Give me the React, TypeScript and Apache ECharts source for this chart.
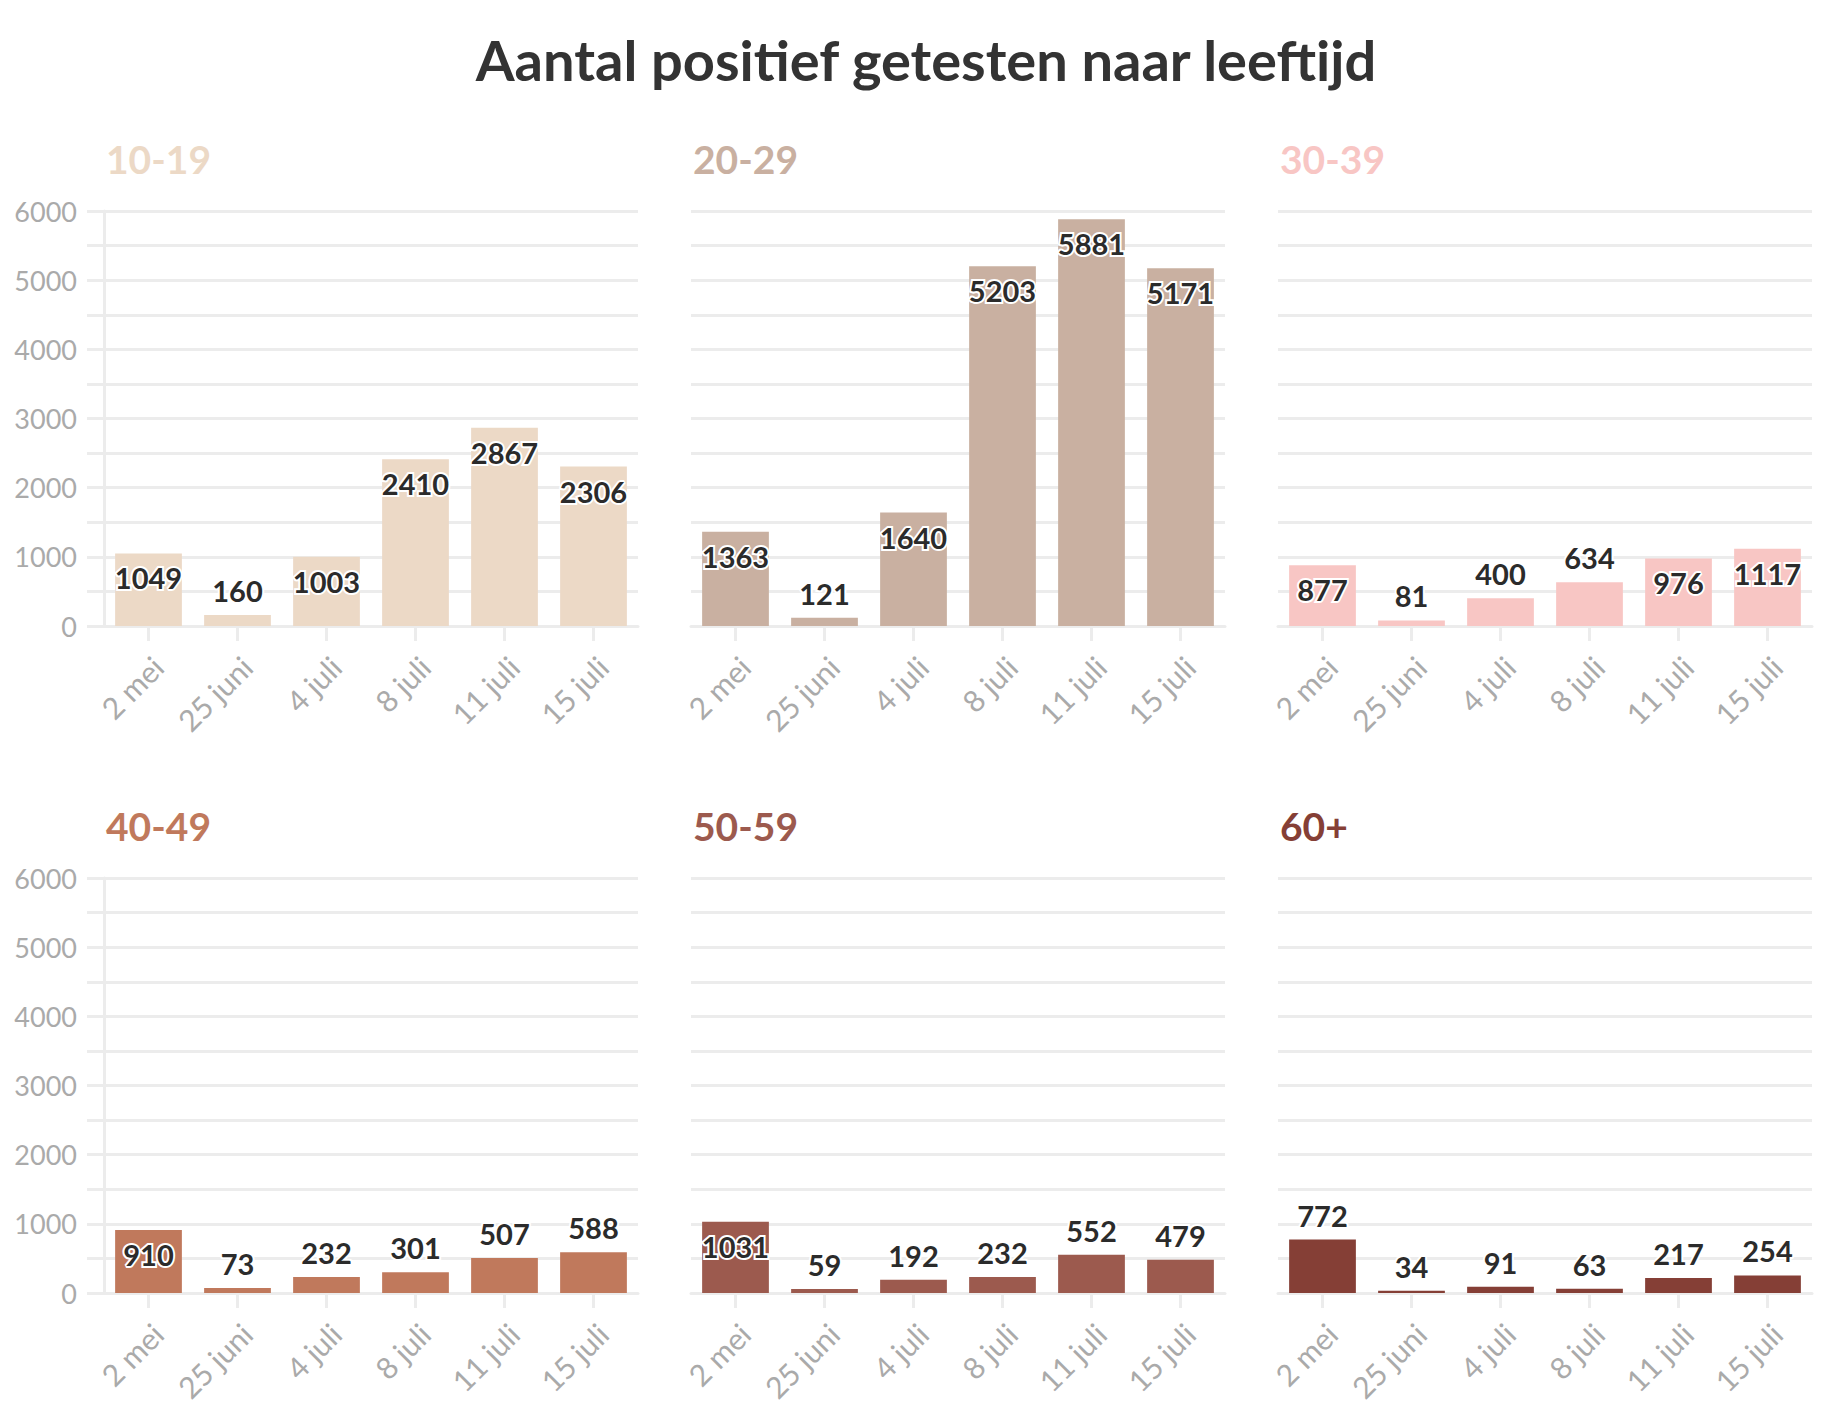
import React, { useEffect, useRef } from "react";
import * as echarts from "echarts";

const categories = ["2 mei", "25 juni", "4 juli", "8 juli", "11 juli", "15 juli"];
const groups = ["10-19", "20-29", "30-39", "40-49", "50-59", "60+"];
const v10_19 = [1049, 160, 1003, 2410, 2867, 2306];
const v20_29 = [1363, 121, 1640, 5203, 5881, 5171];
const v30_39 = [877, 81, 400, 634, 976, 1117];
const v40_49 = [910, 73, 232, 301, 507, 588];
const v50_59 = [1031, 59, 192, 232, 552, 479];
const v60 = [772, 34, 91, 63, 217, 254];
const seriesValues = [v10_19, v20_29, v30_39, v40_49, v50_59, v60];
const colors = ["#ecd9c6", "#c9b0a1", "#f8c6c4", "#c0795c", "#9c5a4e", "#853f36"];
const yTicks = [0, 1000, 2000, 3000, 4000, 5000, 6000];

const TITLE = "Aantal positief getesten naar leeftijd";
const FONT = "Lato";
const GRID_LEFTS = [104, 691, 1278];
const GRID_TOPS = [211, 878];
const GRID_W = 534;
const GRID_H = 415;
const LINE_COLOR = "#ececec";

export default function App() {
  const ref = useRef<HTMLDivElement>(null);
  useEffect(() => {
    document.body.style.margin = "0";
    const chart = echarts.init(ref.current!, null, { renderer: "svg" });
    const grids: any[] = [];
    const xAxes: any[] = [];
    const yAxes: any[] = [];
    const series: any[] = [];
    const graphics: any[] = [
      {
        type: "text",
        x: 926,
        y: 59,
        style: {
          text: TITLE,
          font: `bold 56px ${FONT}`,
          fill: "#333333",
          align: "center",
          verticalAlign: "middle",
        },
      },
    ];
    groups.forEach((g, i) => {
      const col = i % 3;
      const row = Math.floor(i / 3);
      const left = GRID_LEFTS[col];
      const top = GRID_TOPS[row];
      grids.push({ left, top, width: GRID_W, height: GRID_H, containLabel: false });
      const first = col === 0;
      xAxes.push({
        type: "category",
        gridIndex: i,
        data: categories,
        axisLine: { show: true, lineStyle: { color: LINE_COLOR, width: 3 } },
        axisTick: { show: true, alignWithLabel: true, length: 15, lineStyle: { color: LINE_COLOR, width: 3 } },
        axisLabel: {
          rotate: 45,
          color: "#aaaaaa",
          fontFamily: FONT,
          fontSize: 30,
          margin: 15,
          interval: 0,
          verticalAlign: "top",
          padding: [6, 8, 0, 0],
        },
        splitLine: { show: false },
      });
      yAxes.push({
        type: "value",
        gridIndex: i,
        min: 0,
        max: 6000,
        interval: 500,
        axisLine: { show: first, lineStyle: { color: LINE_COLOR, width: 3 } },
        axisTick: { show: first, length: 17, lineStyle: { color: LINE_COLOR, width: 3 } },
        axisLabel: {
          show: first,
          color: "#aaaaaa",
          fontFamily: FONT,
          fontSize: 27,
          margin: 27,
          formatter: (v: number) => (yTicks.indexOf(v) >= 0 ? String(v) : ""),
        },
        splitLine: { show: true, lineStyle: { color: LINE_COLOR, width: 3 } },
      });
      series.push({
        type: "bar",
        name: g,
        xAxisIndex: i,
        yAxisIndex: i,
        barCategoryGap: "25%",
        itemStyle: { color: colors[i] },
        label: {
          show: true,
          fontFamily: FONT,
          fontWeight: "bold",
          fontSize: 29,
          color: "#2b2b2b",
          textBorderColor: "#ffffff",
          textBorderWidth: 4,
          distance: 10,
        },
        data: seriesValues[i].map((v) => ({
          value: v,
          label: { position: v >= 800 ? "insideTop" : "top" },
        })),
      });
      graphics.push({
        type: "text",
        x: left + 2,
        y: top - 52,
        style: {
          text: g,
          font: `bold 39px ${FONT}`,
          fill: colors[i],
          align: "left",
          verticalAlign: "middle",
        },
      });
    });
    chart.setOption({
      animation: false,
      backgroundColor: "#ffffff",
      grid: grids,
      xAxis: xAxes,
      yAxis: yAxes,
      series,
      graphic: graphics,
    });
    return () => chart.dispose();
  }, []);
  return <div ref={ref} style={{ width: 1846, height: 1418 }} />;
}
